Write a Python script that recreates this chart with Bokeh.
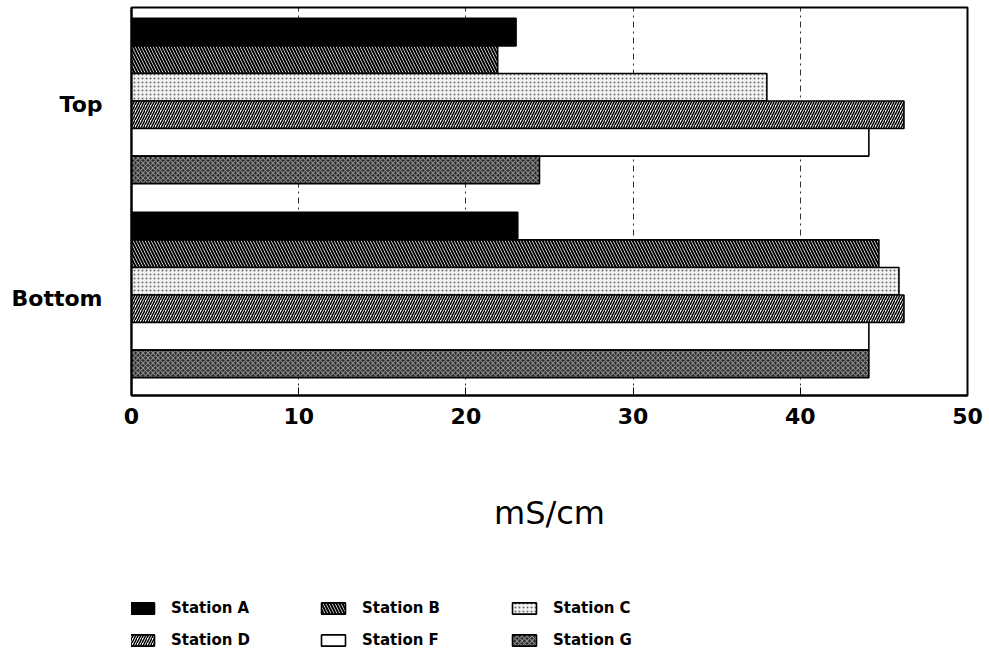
from bokeh.plotting import figure
from bokeh.models import (FactorRange, Range1d, FixedTicker, ColumnDataSource,
                          Legend, LegendItem)
from bokeh.layouts import column
from bokeh.transform import dodge
from bokeh.embed import file_html
from bokeh.resources import INLINE

groups = ["Bottom", "Top"]
stations = ["Station A", "Station B", "Station C", "Station D", "Station F", "Station G"]
top_vals = [23.0, 21.9, 38.0, 46.2, 44.1, 24.4]
bottom_vals = [23.1, 44.7, 45.9, 46.2, 44.1, 44.1]
x_ticks = [0, 10, 20, 30, 40, 50]
legend_order = ["Station A", "Station D", "Station B", "Station F", "Station C", "Station G"]

styles = [
    dict(fill_color="black"),
    dict(fill_color="white", hatch_pattern="\\", hatch_color="black", hatch_scale=6, hatch_weight=2),
    dict(fill_color="#f2f2f2", hatch_pattern=".", hatch_color="#6a6a6a", hatch_scale=4, hatch_weight=1.2),
    dict(fill_color="white", hatch_pattern="/", hatch_color="black", hatch_scale=5, hatch_weight=1.5),
    dict(fill_color="white"),
    dict(fill_color="#2e2e2e", hatch_pattern="x", hatch_color="#8c8c8c", hatch_scale=5, hatch_weight=1.1),
]

FONT = "DejaVu Sans"


def bar_kw(st):
    kw = dict(fill_color=st["fill_color"], line_color="black", line_width=1.6)
    if st.get("hatch_pattern"):
        kw.update(hatch_pattern=st["hatch_pattern"], hatch_color=st["hatch_color"],
                  hatch_scale=st["hatch_scale"], hatch_weight=st["hatch_weight"])
    return kw


p = figure(width=985, height=545, y_range=FactorRange(factors=groups),
           x_range=Range1d(0, 50), output_backend="svg", toolbar_location=None,
           min_border_left=131, min_border_right=18, min_border_top=7,
           min_border_bottom=150)

bar_h = 0.142
for i, (name, st) in enumerate(zip(stations, styles)):
    src = ColumnDataSource(dict(g=["Top", "Bottom"], v=[top_vals[i], bottom_vals[i]]))
    off = 0.018 + (2.5 - i) * bar_h
    p.hbar(y=dodge("g", off, range=p.y_range), right="v", left=0, height=bar_h,
           source=src, **bar_kw(st))

p.outline_line_color = "black"
p.outline_line_width = 2
p.outline_line_alpha = 1

p.xgrid.ticker = FixedTicker(ticks=x_ticks)
p.xgrid.grid_line_color = "black"
p.xgrid.grid_line_dash = "dashdot"
p.xgrid.grid_line_width = 1
p.xgrid.grid_line_alpha = 0.8
p.ygrid.grid_line_color = None

xa = p.xaxis[0]
xa.ticker = FixedTicker(ticks=x_ticks)
xa.axis_line_color = "black"
xa.axis_line_width = 2
xa.major_tick_in = 8
xa.major_tick_out = 0
xa.minor_tick_line_color = None
xa.major_label_text_font = FONT
xa.major_label_text_font_style = "bold"
xa.major_label_text_font_size = "22px"
xa.major_label_text_color = "black"
xa.major_label_standoff = 12
xa.axis_label = "mS/cm"
xa.axis_label_text_font = FONT
xa.axis_label_text_font_style = "normal"
xa.axis_label_text_font_size = "32px"
xa.axis_label_text_color = "black"
xa.axis_label_standoff = 67

ya = p.yaxis[0]
ya.axis_line_color = "black"
ya.axis_line_width = 2
ya.major_tick_in = 0
ya.major_tick_out = 0
ya.minor_tick_line_color = None
ya.major_label_text_font = FONT
ya.major_label_text_font_style = "bold"
ya.major_label_text_font_size = "22px"
ya.major_label_text_color = "black"
ya.major_label_standoff = 29

# legend strip below the chart
lg = figure(width=985, height=111, x_range=Range1d(0, 1), y_range=Range1d(0, 1),
            output_backend="svg", toolbar_location=None, min_border=0)
lg.axis.visible = False
lg.grid.visible = False
lg.outline_line_color = None
item_map = {}
for name, st in zip(stations, styles):
    src = ColumnDataSource(dict(x=[-5.0], y=[-5.0]))
    r = lg.rect(x="x", y="y", width=0.1, height=0.1, source=src, **bar_kw(st))
    item_map[name] = LegendItem(label=name, renderers=[r])
items = [item_map[n] for n in legend_order]

legend = Legend(items=items, ncols=3, location=(-4, 6),
                glyph_width=30, glyph_height=14, label_standoff=14,
                label_width=135, label_height=20, spacing=12,
                margin=0, padding=0, border_line_color=None,
                background_fill_alpha=0,
                label_text_font=FONT, label_text_font_style="bold",
                label_text_font_size="15px", label_text_color="black")
lg.add_layout(legend, "center")

layout = column(p, lg, spacing=0)
open("out.html", "w").write(file_html(layout, INLINE))
